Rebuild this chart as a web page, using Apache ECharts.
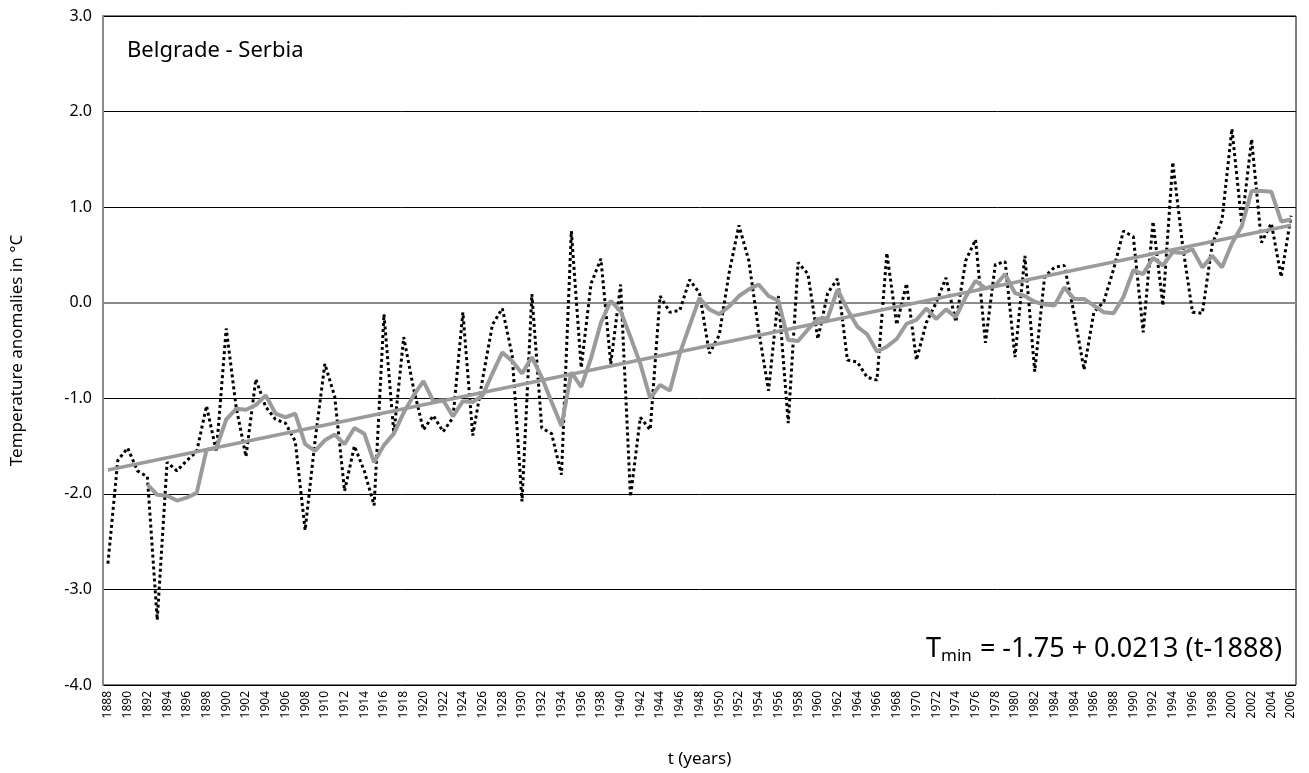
<!DOCTYPE html>
<html>
<head>
<meta charset="utf-8">
<script src="https://cdn.jsdelivr.net/npm/echarts@6/dist/echarts.min.js"></script>
<style>
  html, body { margin: 0; padding: 0; background: #fff; }
  #chart { width: 1309px; height: 773px; }
</style>
</head>
<body>
<div id="chart"></div>
<script>
// every second category gets a label; the source chart repeats 1984
const tickLabels = [
  "1888","1890","1892","1894","1896","1898","1900","1902","1904","1906",
  "1908","1910","1912","1914","1916","1918","1920","1922","1924","1926",
  "1928","1930","1932","1934","1936","1938","1940","1942","1944","1946",
  "1948","1950","1952","1954","1956","1958","1960","1962","1964","1966",
  "1968","1970","1972","1974","1976","1978","1980","1982","1984","1984",
  "1986","1988","1990","1992","1994","1996","1998","2000","2002","2004","2006"
]

// yearly anomalies (dotted line)
const anomalies = [
  -2.73, -1.65, -1.52, -1.76, -1.82, -3.32, -1.67, -1.76, -1.65, -1.56,
  -1.08, -1.56, -0.27, -1.09, -1.61, -0.80, -1.09, -1.22, -1.26, -1.45,
  -2.38, -1.45, -0.64, -0.98, -1.97, -1.50, -1.76, -2.12, -0.12, -1.37,
  -0.36, -0.90, -1.33, -1.18, -1.35, -1.20, -0.10, -1.39, -0.80, -0.23,
  -0.06, -0.55, -2.08, 0.09, -1.31, -1.37, -1.80, 0.75, -0.68, 0.20,
  0.46, -0.64, 0.19, -2.03, -1.20, -1.33, 0.07, -0.10, -0.08, 0.24,
  0.10, -0.53, -0.34, 0.31, 0.81, 0.44, -0.29, -0.92, 0.07, -1.26,
  0.42, 0.30, -0.38, 0.10, 0.25, -0.60, -0.62, -0.78, -0.81, 0.52,
  -0.23, 0.20, -0.60, -0.21, 0.00, 0.26, -0.20, 0.44, 0.66, -0.42,
  0.40, 0.43, -0.57, 0.49, -0.72, 0.27, 0.37, 0.39, -0.12, -0.70,
  -0.10, 0.01, 0.35, 0.75, 0.69, -0.31, 0.85, -0.03, 1.47, 0.60,
  -0.10, -0.11, 0.61, 0.87, 1.82, 0.83, 1.71, 0.63, 0.83, 0.27,
  0.91
]

// 5-year moving average (thick grey line)
const movingAvg = [
  null, null, null, null, -1.90, -2.01, -2.02, -2.07, -2.04, -1.99,
  -1.54, -1.52, -1.22, -1.11, -1.12, -1.07, -0.97, -1.16, -1.20, -1.16,
  -1.48, -1.55, -1.44, -1.38, -1.48, -1.31, -1.37, -1.67, -1.49, -1.37,
  -1.15, -0.97, -0.82, -1.03, -1.02, -1.19, -1.03, -1.04, -0.97, -0.74,
  -0.52, -0.61, -0.74, -0.57, -0.78, -1.04, -1.29, -0.73, -0.88, -0.58,
  -0.21, 0.02, -0.09, -0.36, -0.64, -1.00, -0.86, -0.92, -0.53, -0.24,
  0.05, -0.07, -0.12, -0.04, 0.07, 0.14, 0.19, 0.07, 0.02, -0.39,
  -0.40, -0.28, -0.17, -0.16, 0.14, -0.07, -0.25, -0.33, -0.51, -0.46,
  -0.38, -0.22, -0.18, -0.06, -0.17, -0.07, -0.15, 0.06, 0.23, 0.15,
  0.18, 0.30, 0.10, 0.07, 0.01, -0.02, -0.03, 0.16, 0.04, 0.04,
  -0.03, -0.10, -0.11, 0.06, 0.34, 0.30, 0.47, 0.39, 0.53, 0.52,
  0.56, 0.37, 0.49, 0.37, 0.62, 0.80, 1.17, 1.17, 1.16, 0.85,
  0.87
]

// linear trend, value at first and last category
const trendEnds = [-1.75, 0.81]

const categories = []
tickLabels.forEach((t, k) => {
  categories.push(t)
  if (k < tickLabels.length - 1) categories.push(String(Number(t) + 1))
})

const font = "Noto Sans"
const grey = "#9b9b9b"

const chart = echarts.init(document.getElementById("chart"))
chart.setOption({
  animation: false,
  textStyle: {fontFamily: font},
  grid: {
    left: 103, right: 13, top: 16, bottom: 84,
    show: true, borderColor: "#000", borderWidth: 1
  },
  title: [
    {
      text: "Belgrade - Serbia",
      left: 122, top: 35,
      textStyle: {fontFamily: font, fontSize: 22, fontWeight: "normal", color: "#000"}
    },
    {
      text: "{a|T}{b|min}{a| = -1.75 + 0.0213 (t-1888)}",
      right: 22, top: 627,
      textStyle: {
        fontWeight: "normal",
        rich: {
          a: {fontFamily: font, fontSize: 27, fontWeight: "normal", lineHeight: 34, color: "#000"},
          b: {fontFamily: font, fontSize: 17, fontWeight: "normal", lineHeight: 20, padding: [14, 1, 0, 0], color: "#000"}
        }
      }
    }
  ],
  xAxis: {
    type: "category",
    data: categories,
    boundaryGap: true,
    name: "t (years)",
    nameLocation: "middle",
    nameGap: 66,
    nameTextStyle: {fontFamily: font, fontSize: 17, color: "#000"},
    axisLine: {lineStyle: {color: "#8a8a8a", width: 2}},
    axisTick: {show: false},
    axisLabel: {
      interval: 1, rotate: 90, margin: 6,
      fontFamily: font, fontSize: 12, color: "#000"
    },
    splitLine: {show: false}
  },
  yAxis: {
    type: "value",
    min: -4, max: 3, interval: 1,
    name: "Temperature anomalies in °C",
    nameLocation: "middle",
    nameGap: 77,
    nameTextStyle: {fontFamily: font, fontSize: 17, color: "#000"},
    axisLine: {show: true, lineStyle: {color: "#8a8a8a", width: 2}},
    axisTick: {show: false},
    axisLabel: {
      margin: 11,
      fontFamily: font, fontSize: 16, color: "#000",
      formatter: v => v.toFixed(1)
    },
    splitLine: {lineStyle: {color: "#000", width: 1}}
  },
  series: [
    {
      name: "anomaly",
      type: "line",
      data: anomalies,
      symbol: "none",
      lineStyle: {color: "#000", width: 3, type: [3, 3]}
    },
    {
      name: "moving average",
      type: "line",
      data: movingAvg,
      symbol: "none",
      lineStyle: {color: grey, width: 4}
    },
    {
      name: "trend",
      type: "line",
      data: [[0, trendEnds[0]], [categories.length - 1, trendEnds[1]]],
      symbol: "none",
      lineStyle: {color: grey, width: 3.5}
    }
  ]
})
</script>
</body>
</html>
